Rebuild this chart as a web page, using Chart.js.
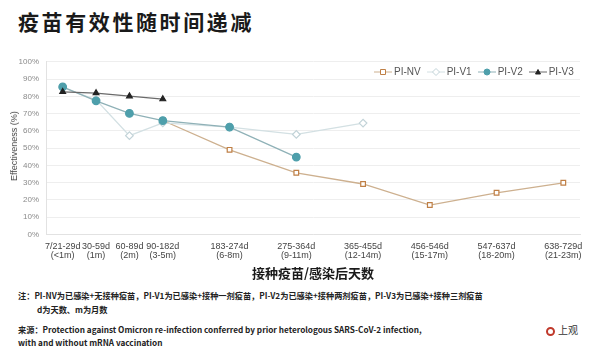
<!DOCTYPE html>
<html>
<head>
<meta charset="utf-8">
<script src="https://cdn.jsdelivr.net/npm/chart.js@4"></script>
<style>
  html, body { margin: 0; padding: 0; background: #fff; }
  body { width: 600px; height: 351px; position: relative; overflow: hidden; font-family: "Noto Sans CJK SC", "Noto Sans", sans-serif; }
  .title { position: absolute; left: 18px; top: 6px; font-size: 21px; font-weight: 700; color: #1a1a1a; letter-spacing: 2.6px; }
  .chart-wrap { position: absolute; left: 0; top: 50px; width: 600px; height: 231px; }
  .ytitle { position: absolute; left: 14px; top: 146px; transform: translate(-50%, -50%) rotate(-90deg); font-family: "Liberation Sans", Arial, sans-serif; font-size: 9px; color: #444; white-space: nowrap; }
  .legend { position: absolute; left: 374px; top: 66px; display: flex; align-items: center; font-family: "Liberation Sans", Arial, sans-serif; font-size: 10px; color: #555; }
  .legend .item { display: flex; align-items: center; margin-right: 6px; }
  .legend canvas { margin-right: 2px; }
  .note { position: absolute; left: 18px; font-size: 8.2px; font-weight: 700; color: #222; line-height: 12px; white-space: nowrap; }
  .logo { position: absolute; right: 22px; top: 322px; font-size: 10px; color: #333; }
  .logo span { display: inline-block; width: 9px; height: 9px; border: 2px solid #c0392b; border-radius: 50%; vertical-align: -2px; margin-right: 3px; box-sizing: border-box; }
</style>
</head>
<body>
<div class="title">疫苗有效性随时间递减</div>
<div class="chart-wrap"><canvas id="chart"></canvas></div>
<div class="ytitle">Effectiveness (%)</div>
<div class="legend" id="legend"></div>
<div class="note" style="top:289px">注：PI-NV为已感染+无接种疫苗，PI-V1为已感染+接种一剂疫苗，PI-V2为已感染+接种两剂疫苗，PI-V3为已感染+接种三剂疫苗</div>
<div class="note" style="top:303px;left:37px">d为天数、m为月数</div>
<div class="note" style="top:323px">来源：Protection against Omicron re-infection conferred by prior heterologous SARS-CoV-2 infection,</div>
<div class="note" style="top:336px">with and without mRNA vaccination</div>
<div class="logo"><span></span>上观</div>
<script>
// empty slots keep the wider spacing of the later periods
const categories = [
  ['7/21-29d', '(<1m)'], ['30-59d', '(1m)'], ['60-89d', '(2m)'], ['90-182d', '(3-5m)'], '',
  ['183-274d', '(6-8m)'], '', ['275-364d', '(9-11m)'], '', ['365-455d', '(12-14m)'], '',
  ['456-546d', '(15-17m)'], '', ['547-637d', '(18-20m)'], '', ['638-729d', '(21-23m)'],
];
const piNV = [null, null, null, 66, null, 49, null, 35.7, null, 29.2, null, 17, null, 24.1, null, 29.9];
const piV1 = [85, 78, 57.2, 64.6, null, 62.2, null, 57.9, null, 64.5, null, null, null, null, null, null];
const piV2 = [85.5, 77.4, 70.1, 65.9, null, 62.2, null, 44.8, null, null, null, null, null, null, null, null];
const piV3 = [82.6, 81.9, 80.1, 78.4, null, null, null, null, null, null, null, null, null, null, null, null];
const yTicks = [0, 10, 20, 30, 40, 50, 60, 70, 80, 90, 100];

function legendIcon(s) {
  const c = document.createElement('canvas');
  c.width = 18; c.height = 10;
  const g = c.getContext('2d');
  g.strokeStyle = s.line; g.lineWidth = 1;
  g.beginPath(); g.moveTo(0, 5); g.lineTo(18, 5); g.stroke();
  g.fillStyle = s.fill; g.strokeStyle = s.marker;
  g.beginPath();
  if (s.style === 'rect') g.rect(6.5, 2.5, 5, 5);
  else if (s.style === 'rectRot') { g.moveTo(9, 1.5); g.lineTo(12.5, 5); g.lineTo(9, 8.5); g.lineTo(5.5, 5); g.closePath(); }
  else if (s.style === 'circle') g.arc(9, 5, 3, 0, Math.PI * 2);
  else { g.moveTo(9, 2.5); g.lineTo(11.5, 7); g.lineTo(6.5, 7); g.closePath(); }
  g.fill(); g.stroke();
  return c;
}

// order: lower draws on top (V3 over V2 over V1 over NV)
const series = [
  { label: 'PI-NV', data: piNV, line: '#cdb08f', marker: '#bf7f45', fill: '#fff', style: 'rect', r: 3.3, order: 3 },
  { label: 'PI-V1', data: piV1, line: '#d3e0e3', marker: '#c2d3d8', fill: '#fff', style: 'rectRot', r: 3.8, order: 2 },
  { label: 'PI-V2', data: piV2, line: '#8fb1b7', marker: '#4e9fab', fill: '#4e9fab', style: 'circle', r: 3.8, order: 1 },
  { label: 'PI-V3', data: piV3, line: '#6a6a6a', marker: '#222', fill: '#222', style: 'triangle', r: 3.3, order: 0 },
];

const legend = document.getElementById('legend');
series.forEach((s) => {
  const item = document.createElement('div');
  item.className = 'item';
  item.appendChild(legendIcon(s));
  item.appendChild(document.createTextNode(s.label));
  legend.appendChild(item);
});

new Chart(document.getElementById('chart'), {
  type: 'line',
  data: {
    labels: categories,
    datasets: series.map((s) => ({
      label: s.label,
      data: s.data,
      order: s.order,
      spanGaps: true,
      borderColor: s.line,
      borderWidth: 1.3,
      pointStyle: s.style,
      pointRadius: s.r,
      pointBorderColor: s.marker,
      pointBackgroundColor: s.fill,
      pointBorderWidth: 1.2,
      tension: 0,
    })),
  },
  options: {
    responsive: true,
    maintainAspectRatio: false,
    animation: false,
    layout: { padding: { left: 0, right: 20, top: 5, bottom: 0 } },
    plugins: {
      legend: { display: false },
      tooltip: { enabled: false },
    },
    scales: {
      x: {
        offset: true,
        grid: { display: false },
        border: { color: '#e2e2e2' },
        ticks: {
          color: '#444',
          autoSkip: false,
          maxRotation: 0,
          padding: 0,
          font: { family: 'Liberation Sans, Arial', size: 9, lineHeight: 1.0 },
        },
        title: {
          display: true,
          text: '接种疫苗/感染后天数',
          color: '#1a1a1a',
          font: { family: 'Noto Sans CJK SC', size: 13, weight: 'bold' },
          padding: { top: 5, bottom: 0 },
        },
      },
      y: {
        min: 0,
        max: 100,
        afterBuildTicks: (axis) => { axis.ticks = yTicks.map((v) => ({ value: v })); },
        afterFit: (axis) => { axis.width = 46; },
        grid: { color: '#eeeeee', drawTicks: false },
        border: { color: '#e2e2e2' },
        ticks: {
          color: '#8a8a8a',
          padding: 7,
          font: { family: 'Liberation Sans, Arial', size: 8 },
          callback: (v) => v + '%',
        },
      },
    },
  },
});
</script>
</body>
</html>
